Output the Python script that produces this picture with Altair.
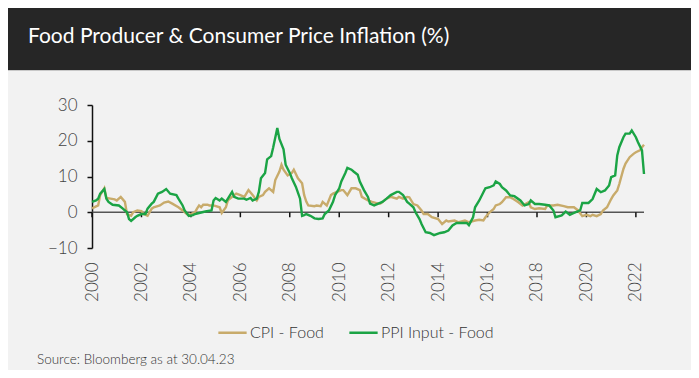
import altair as alt
import pandas as pd

# ---------------- data ----------------
cpi_dates = [
    "2000/01", "2000/04", "2000/05", "2000/07", "2000/08", "2000/10", "2000/12",
    "2001/01", "2001/03", "2001/05", "2001/06", "2001/08", "2001/09", "2001/11",
    "2002/01", "2002/02", "2002/04", "2002/06", "2002/07", "2002/10", "2002/12",
    "2003/02", "2003/04", "2003/07", "2003/09", "2003/11", "2003/12",
    "2004/03", "2004/04", "2004/05", "2004/06", "2004/07", "2004/09", "2004/10", "2004/12",
    "2005/03", "2005/04", "2005/06", "2005/07", "2005/09", "2005/11",
    "2006/01", "2006/03", "2006/05", "2006/07", "2006/09", "2006/10", "2006/12",
    "2007/01", "2007/03", "2007/05", "2007/06", "2007/08", "2007/09", "2007/10", "2007/12",
    "2008/02", "2008/03", "2008/05", "2008/07", "2008/08", "2008/09", "2008/10",
    "2009/01", "2009/02", "2009/04", "2009/05", "2009/07", "2009/09", "2009/10", "2009/12",
    "2010/02", "2010/03", "2010/05", "2010/07", "2010/09", "2010/11", "2010/12",
    "2011/03", "2011/05", "2011/08", "2011/09", "2011/12",
    "2012/02", "2012/05", "2012/06", "2012/08", "2012/10", "2012/11",
    "2013/01", "2013/03", "2013/05", "2013/06", "2013/08", "2013/10",
    "2014/01", "2014/03", "2014/05", "2014/06", "2014/09", "2014/11",
    "2015/02", "2015/04", "2015/07", "2015/09", "2015/11", "2015/12",
    "2016/02", "2016/04", "2016/05", "2016/07", "2016/08", "2016/10", "2016/12",
    "2017/01", "2017/04", "2017/06", "2017/09", "2017/10", "2017/12",
    "2018/02", "2018/05", "2018/06", "2018/09", "2018/11",
    "2019/02", "2019/04", "2019/07", "2019/09", "2019/11",
    "2020/01", "2020/03", "2020/04", "2020/06", "2020/08", "2020/09", "2020/11",
    "2021/01", "2021/02", "2021/04", "2021/05", "2021/07", "2021/08", "2021/10", "2021/12",
    "2022/01", "2022/03", "2022/04", "2022/05",
]
cpi_values = [
    1.1, 1.9, 4.8, 6.7, 4.0, 3.8, 3.6,
    3.3, 4.3, 2.9, -0.5, -1.0, 0.0, 0.5,
    0.3, -0.5, -1.0, 1.0, 1.4, 1.9, 2.7,
    3.0, 2.4, 1.4, 0.5, -0.5, -0.8,
    0.0, 1.0, 1.9, 1.4, 2.1, 2.1, 1.9, 1.9,
    1.4, -0.2, 1.4, 3.3, 4.3, 5.2,
    4.8, 4.3, 6.2, 4.8, 3.3, 4.3, 4.8,
    5.7, 6.7, 5.7, 9.0, 11.4, 13.3, 11.9, 10.3,
    11.0, 11.9, 9.5, 8.1, 4.8, 3.0, 1.9,
    1.7, 1.9, 1.7, 2.9, 1.9, 4.8, 5.2, 5.7,
    6.2, 6.2, 4.8, 6.7, 6.7, 6.2, 4.3,
    3.3, 2.9, 2.4, 2.4, 3.8,
    4.3, 3.8, 4.3, 3.8, 4.3, 4.2,
    2.3, 1.9, 0.5, -0.5, -0.5, -1.4,
    -1.9, -3.3, -2.3, -2.6, -2.3, -2.8,
    -2.3, -2.8, -2.3, -2.1, -2.3, -1.4,
    0.0, 0.9, 1.9, 2.3, 2.8, 4.2, 4.2,
    3.9, 2.8, 1.9, 2.8, 1.4, 0.9,
    1.1, 0.9, 1.9, 1.9, 2.1,
    1.7, 1.4, 1.4, 0.5, -1.1,
    -0.7, -1.1, -0.7, -1.1, -0.5, 0.5, 1.4,
    3.7, 4.7, 6.1, 7.9, 12.1, 13.6, 15.4, 16.4,
    16.8, 17.3, 18.2, 18.9,
]

ppi_dates = [
    "2000/01", "2000/03", "2000/04", "2000/05", "2000/07", "2000/08", "2000/09", "2000/11",
    "2001/02", "2001/04", "2001/06", "2001/07", "2001/08", "2001/10", "2001/11",
    "2002/01", "2002/03", "2002/04", "2002/06", "2002/07", "2002/09", "2002/11",
    "2003/01", "2003/03", "2003/06", "2003/07", "2003/09", "2003/10", "2003/12",
    "2004/02", "2004/03", "2004/05", "2004/08", "2004/11", "2004/12",
    "2005/01", "2005/03", "2005/04", "2005/06", "2005/07", "2005/09", "2005/10", "2005/12",
    "2006/03", "2006/04", "2006/06", "2006/07", "2006/09", "2006/10", "2006/11",
    "2007/01", "2007/02", "2007/04", "2007/05", "2007/07", "2007/08", "2007/10", "2007/11",
    "2008/01", "2008/02", "2008/04", "2008/06", "2008/07", "2008/08", "2008/09", "2008/11",
    "2009/01", "2009/03", "2009/05", "2009/06", "2009/08", "2009/10", "2009/11",
    "2010/01", "2010/02", "2010/04", "2010/05", "2010/07", "2010/08", "2010/10", "2010/11",
    "2011/01", "2011/03", "2011/04", "2011/06", "2011/08", "2011/10", "2011/12",
    "2012/02", "2012/05", "2012/06", "2012/08", "2012/10", "2012/11",
    "2013/01", "2013/02", "2013/04", "2013/05", "2013/07", "2013/09", "2013/11",
    "2014/02", "2014/04", "2014/06", "2014/08", "2014/10",
    "2015/01", "2015/03", "2015/04", "2015/06", "2015/07", "2015/09", "2015/11", "2015/12",
    "2016/02", "2016/04", "2016/05", "2016/07", "2016/08", "2016/10", "2016/12",
    "2017/02", "2017/05", "2017/07", "2017/09", "2017/10", "2017/12",
    "2018/02", "2018/05", "2018/07", "2018/09", "2018/10",
    "2019/01", "2019/03", "2019/05", "2019/07", "2019/10", "2019/11",
    "2020/02", "2020/04", "2020/06", "2020/08", "2020/10", "2020/12",
    "2021/01", "2021/03", "2021/04", "2021/05", "2021/07", "2021/08", "2021/10", "2021/11",
    "2022/01", "2022/02", "2022/04", "2022/05",
]
ppi_values = [
    2.9, 3.3, 3.8, 5.2, 6.5, 3.8, 2.9, 2.1,
    1.9, 1.0, 0.0, -1.9, -2.4, -1.4, -1.0,
    -0.5, -0.5, 1.0, 2.4, 2.9, 5.2, 5.7,
    6.5, 5.2, 4.8, 3.8, 1.9, 0.5, -1.0,
    -0.8, -0.5, -0.2, 0.2, 0.5, 3.3,
    4.0, 3.3, 3.8, 2.9, 3.8, 5.7, 4.3, 3.8,
    3.8, 3.5, 4.0, 3.3, 3.8, 5.7, 9.5,
    11.0, 14.8, 15.7, 18.1, 23.6, 20.5, 17.6, 13.3,
    11.0, 9.5, 7.1, 3.8, -1.0, -0.8, -0.5, -1.0,
    -1.7, -1.9, -1.7, -0.5, 0.5, 2.9, 4.8,
    6.7, 8.6, 11.0, 12.4, 11.9, 11.4, 10.5, 8.6,
    6.2, 4.3, 2.4, 1.9, 2.4, 2.9, 3.8,
    4.8, 5.7, 5.7, 4.8, 2.9, 2.4,
    1.4, 0.0, -1.9, -3.3, -5.6, -5.8, -6.4,
    -5.8, -5.6, -5.1, -3.7, -3.0,
    -3.0, -3.0, -3.6, -1.4, 1.4, 3.3, 5.6, 6.7,
    7.0, 7.5, 8.6, 7.9, 7.0, 6.1, 4.7,
    4.5, 3.3, 1.9, 2.3, 3.3, 2.3,
    2.3, 2.1, 1.9, 0.5, -1.4,
    -0.9, 0.2, -0.7, -0.2, 0.5, 2.6,
    2.6, 3.7, 6.5, 5.6, 6.1, 7.5,
    9.8, 10.3, 15.9, 18.2, 21.0, 22.0, 22.0, 22.9,
    21.0, 19.6, 17.3, 10.7,
]

series_names = ["CPI - Food", "PPI Input - Food"]
series_colors = ["#C8AB6B", "#1BA445"]
tick_years = list(range(2000, 2023, 2))
y_ticks = [-10, 0, 10, 20, 30]

title_text = "Food Producer & Consumer Price Inflation (%)"
source_text = "Source: Bloomberg as at 30.04.23"

# ---------------- tables ----------------
df = pd.concat([
    pd.DataFrame({"date": [d + "/01" for d in cpi_dates], "value": cpi_values, "series": series_names[0]}),
    pd.DataFrame({"date": [d + "/01" for d in ppi_dates], "value": ppi_values, "series": series_names[1]}),
])
ticks_df = pd.DataFrame({"date": [f"{y}/01/01" for y in tick_years]})
one = pd.DataFrame({"title": [title_text], "source": [source_text]})

W, H = 552, 143
PAD = {"left": 84, "top": 97, "right": 47, "bottom": 122}
FONT = "Lato"

x_scale = alt.Scale(domain=[alt.DateTime(year=2000, month=1, date=1),
                            alt.DateTime(year=2022, month=5, date=1)], nice=False)
y_scale = alt.Scale(domain=[-10, 30], nice=False, zero=False)
y_axis = alt.Axis(values=y_ticks, grid=False, domainColor="#111111", domainWidth=1.5,
                  tickColor="#111111", tickWidth=1.5, tickSize=5, labelPadding=10,
                  labelOverlap=False, labelFont=FONT, labelFontSize=17, labelFontWeight=300,
                  labelColor="#444444", title=None)

lines = alt.Chart(df).mark_line(strokeWidth=2.4, clip=False).encode(
    x=alt.X("date:T", scale=x_scale,
            axis=alt.Axis(values=[alt.DateTime(year=y, month=1, date=1) for y in tick_years],
                          format="%Y", labelAngle=-90, labelAlign="right", labelBaseline="middle",
                          domain=False, ticks=False, grid=False, labelPadding=14,
                          labelOverlap=False,
                          labelFont=FONT, labelFontSize=17, labelFontWeight=300,
                          labelColor="#444444", title=None)),
    y=alt.Y("value:Q", scale=y_scale, axis=y_axis),
    color=alt.Color("series:N", scale=alt.Scale(domain=series_names, range=series_colors),
                    legend=alt.Legend(orient="none", legendX=125, legendY=212, direction="horizontal",
                                      title=None, symbolType="stroke", symbolSize=800,
                                      symbolStrokeWidth=2.5, labelFont=FONT, labelFontSize=16,
                                      labelFontWeight=300, labelColor="#333333",
                                      labelOffset=2, columnPadding=20)),
    order=alt.Order("series:N", sort="ascending"),
)

zero_line = alt.Chart(one).mark_rule(color="#555555", strokeWidth=1.5).encode(
    y=alt.Y(datum=0, scale=y_scale, axis=y_axis), x=alt.value(0), x2=alt.value(W)
)
tick_marks = alt.Chart(ticks_df).mark_rule(color="#111111", strokeWidth=1.5).encode(
    x=alt.X("date:T", scale=x_scale),
    y=alt.Y(datum=0, scale=y_scale, axis=y_axis), y2=alt.datum(-1.4)
)

header = alt.Chart(one).mark_rect(color="#262626").encode(
    x=alt.value(-PAD["left"]), x2=alt.value(W + PAD["right"]),
    y=alt.value(-PAD["top"]), y2=alt.value(-35)
)
header_line = alt.Chart(one).mark_rule(color="#c8c8c8", strokeWidth=1).encode(
    x=alt.value(-PAD["left"]), x2=alt.value(W + PAD["right"]), y=alt.value(-34.5)
)
title = alt.Chart(one).mark_text(
    align="left", baseline="alphabetic", font=FONT, fontSize=21,
    fontWeight=400, color="#ffffff"
).encode(text="title:N", x=alt.value(-64), y=alt.value(-62))
source = alt.Chart(one).mark_text(
    align="left", baseline="alphabetic", font=FONT, fontSize=13.5,
    fontWeight=300, color="#333333"
).encode(text="source:N", x=alt.value(-55), y=alt.value(259))

chart = alt.layer(header, header_line, title, zero_line, tick_marks, lines, source).properties(
    width=W, height=H, padding=PAD,
    autosize=alt.AutoSizeParams(type="none"),
    background="#f2f2f2",
).configure_view(stroke=None).configure_axis(labelOverlap=False)

chart.save("out.html", embed_options={"renderer": "svg", "actions": False})
